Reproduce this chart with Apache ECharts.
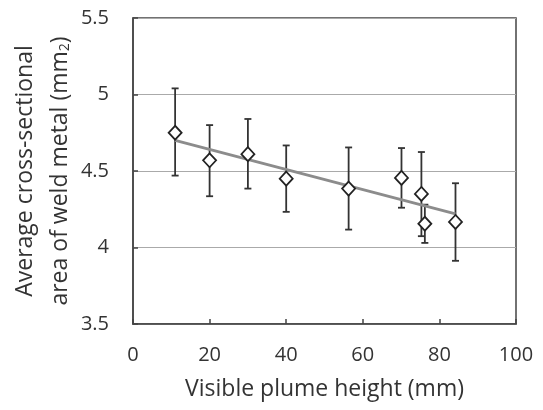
<!DOCTYPE html>
<html>
<head>
<meta charset="utf-8">
<script src="https://cdn.jsdelivr.net/npm/echarts@6/dist/echarts.min.js"></script>
<style>html,body{margin:0;padding:0;background:#fff;}#c{width:543px;height:410px;}</style>
</head>
<body>
<div id="c"></div>
<script>
var heights = [11, 20, 30, 40, 56.3, 70.1, 75.3, 76.2, 84.2];
var areas = [4.75, 4.57, 4.61, 4.45, 4.385, 4.455, 4.35, 4.155, 4.167];
var errUpper = [5.04, 4.80, 4.84, 4.667, 4.654, 4.65, 4.624, 4.28, 4.42];
var errLower = [4.47, 4.335, 4.385, 4.233, 4.117, 4.26, 4.074, 4.03, 3.913];
var trendX = [11, 84.2];
var trendY = [4.70, 4.22];
var xTicks = [0, 20, 40, 60, 80, 100];
var yTicks = [3.5, 4, 4.5, 5, 5.5];

var chart = echarts.init(document.getElementById('c'), null, {renderer: 'canvas'});
var font = 'Open Sans';
var errData = heights.map(function (h, i) { return [h, errLower[i], errUpper[i]]; });
var pts = heights.map(function (h, i) { return [h, areas[i]]; });
var trend = trendX.map(function (x, i) { return [x, trendY[i]]; });

chart.setOption({
  animation: false,
  backgroundColor: '#fff',
  grid: {left: 133, right: 27, top: 18, bottom: 86, containLabel: false, outerBoundsMode: 'none',
    show: true, borderColor: '#444', borderWidth: 1.5, backgroundColor: 'transparent'},
  xAxis: {
    type: 'value', min: xTicks[0], max: xTicks[xTicks.length - 1], interval: 20,
    axisLine: {show: true, lineStyle: {color: '#444', width: 1.5}},
    axisTick: {show: true, inside: true, length: 5, lineStyle: {color: '#444', width: 1.5}},
    splitLine: {show: false},
    axisLabel: {color: '#333', fontFamily: font, fontSize: 20, margin: 21},
    name: 'Visible plume height (mm)', nameLocation: 'middle', nameGap: 54, nameMoveOverlap: false,
    nameTextStyle: {color: '#333', fontFamily: font, fontSize: 23}
  },
  yAxis: {
    type: 'value', min: yTicks[0], max: yTicks[yTicks.length - 1], interval: 0.5,
    axisLine: {show: true, lineStyle: {color: '#444', width: 1.5}},
    axisTick: {show: true, inside: true, length: 5, lineStyle: {color: '#444', width: 1.5}},
    splitLine: {show: true, lineStyle: {color: '#aaa', width: 1}},
    axisLabel: {color: '#333', fontFamily: font, fontSize: 20, margin: 24},
    name: 'Average cross-sectional\narea of weld metal (mm{s|2})', nameLocation: 'middle', nameGap: 55, nameMoveOverlap: false,
    nameTextStyle: {color: '#333', fontFamily: font, fontSize: 23, lineHeight: 35,
      rich: {s: {fontFamily: font, fontSize: 14, lineHeight: 14, color: '#333', verticalAlign: 'middle', padding: [10, 0, 0, 0]}}}
  },
  series: [
    {
      type: 'custom', data: errData, z: 2,
      renderItem: function (params, api) {
        var x = api.value(0);
        var lo = api.coord([x, api.value(1)]);
        var hi = api.coord([x, api.value(2)]);
        var hw = 3.5;
        var st = {stroke: '#333', lineWidth: 1.8, fill: null};
        return {type: 'group', children: [
          {type: 'line', shape: {x1: lo[0], y1: lo[1], x2: hi[0], y2: hi[1]}, style: st},
          {type: 'line', shape: {x1: lo[0] - hw, y1: lo[1], x2: lo[0] + hw, y2: lo[1]}, style: st},
          {type: 'line', shape: {x1: hi[0] - hw, y1: hi[1], x2: hi[0] + hw, y2: hi[1]}, style: st}
        ]};
      }
    },
    {
      type: 'line', data: trend, symbol: 'none', z: 3,
      lineStyle: {color: '#8c8c8c', width: 2.8}
    },
    {
      type: 'scatter', data: pts, z: 4, symbol: 'diamond', symbolSize: [13, 14],
      itemStyle: {color: '#fff', borderColor: '#222', borderWidth: 1.8, opacity: 1}
    }
  ]
});
</script>
</body>
</html>
